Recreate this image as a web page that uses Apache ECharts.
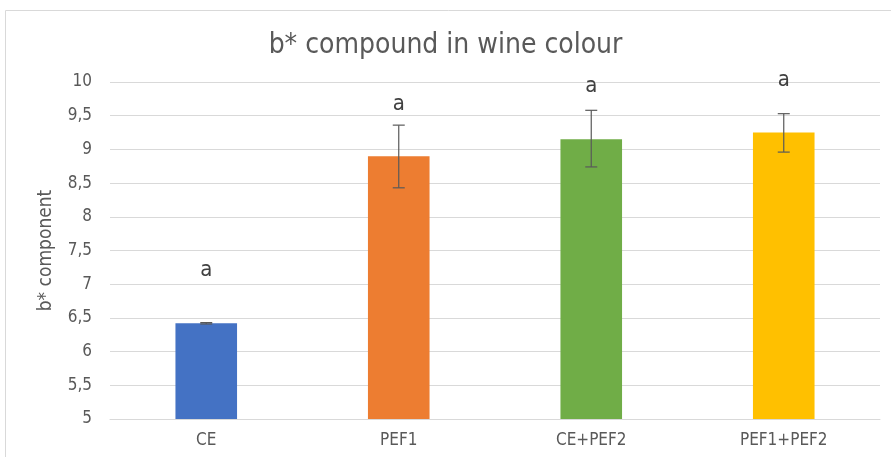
<!DOCTYPE html>
<html>
<head>
<meta charset="utf-8">
<script src="https://cdn.jsdelivr.net/npm/echarts@6/dist/echarts.min.js"></script>
<style>
  html, body { margin: 0; padding: 0; background: #fff; }
  #chart { width: 891px; height: 457px; }
</style>
</head>
<body>
<div id="chart"></div>
<script>
// data
var categories = ['CE', 'PEF1', 'CE+PEF2', 'PEF1+PEF2'];
var means = [6.42, 8.90, 9.15, 9.25];
var errLow = [6.41, 8.43, 8.74, 8.96];
var errHigh = [6.43, 9.36, 9.58, 9.53];
var letters = ['a', 'a', 'a', 'a'];
var letterY = [7.2, 9.67, 9.93, 10.03];
var barColors = ['#4472C4', '#ED7D31', '#70AD47', '#FFC000'];
var yTicks = ['5', '5,5', '6', '6,5', '7', '7,5', '8', '8,5', '9', '9,5', '10'];

var font = "'Liberation Sans Narrow', 'DejaVu Sans Condensed', sans-serif";
var myChart = echarts.init(document.getElementById('chart'));

var errData = categories.map(function (c, i) { return [i, errLow[i], errHigh[i]]; });
var letterData = categories.map(function (c, i) { return [i, letterY[i], letters[i]]; });

myChart.setOption({
    animation: false,
    textStyle: { fontFamily: font },
    graphic: [{
        type: 'rect',
        shape: { x: 5.5, y: 10.5, width: 900, height: 460 },
        style: { fill: 'none', stroke: '#d9d9d9', lineWidth: 1 },
        z: -10
    }],
    title: {
        text: 'b* compound in wine colour',
        left: 'center',
        top: 27,
        textStyle: { color: '#595959', fontSize: 28, fontWeight: 'normal', fontFamily: font }
    },
    grid: { left: 110, right: 11, top: 82, bottom: 38 },
    xAxis: {
        type: 'category',
        data: categories,
        axisLine: { lineStyle: { color: '#d9d9d9' } },
        axisTick: { show: false },
        axisLabel: { color: '#595959', fontSize: 17, margin: 13, fontFamily: font }
    },
    yAxis: {
        type: 'value',
        min: 5,
        max: 10,
        interval: 0.5,
        name: 'b* component',
        nameLocation: 'middle',
        nameGap: 54,
        nameRotate: 90,
        nameTextStyle: { color: '#595959', fontSize: 19, fontFamily: font },
        axisLine: { show: false },
        axisTick: { show: false },
        splitLine: { lineStyle: { color: '#d9d9d9' } },
        axisLabel: {
            color: '#595959', fontSize: 17, margin: 18, fontFamily: font,
            formatter: function (v) { return yTicks[Math.round((v - 5) * 2)]; }
        }
    },
    series: [
        {
            type: 'bar',
            barWidth: '32%',
            data: means.map(function (v, i) {
                return { value: v, itemStyle: { color: barColors[i] } };
            })
        },
        {
            type: 'custom',
            data: errData,
            z: 5,
            renderItem: function (params, api) {
                var x = api.value(0);
                var lo = api.coord([x, api.value(1)]);
                var hi = api.coord([x, api.value(2)]);
                var cap = 6;
                var st = { stroke: '#595959', lineWidth: 1.2 };
                return {
                    type: 'group',
                    children: [
                        { type: 'line', shape: { x1: lo[0], y1: lo[1], x2: hi[0], y2: hi[1] }, style: st },
                        { type: 'line', shape: { x1: lo[0] - cap, y1: lo[1], x2: lo[0] + cap, y2: lo[1] }, style: st },
                        { type: 'line', shape: { x1: hi[0] - cap, y1: hi[1], x2: hi[0] + cap, y2: hi[1] }, style: st }
                    ]
                };
            }
        },
        {
            type: 'custom',
            data: letterData,
            z: 6,
            renderItem: function (params, api) {
                var p = api.coord([api.value(0), api.value(1)]);
                return {
                    type: 'text',
                    style: {
                        x: p[0], y: p[1],
                        text: letters[params.dataIndex],
                        fill: '#404040',
                        fontSize: 22,
                        fontFamily: font,
                        align: 'center',
                        verticalAlign: 'middle'
                    }
                };
            }
        }
    ]
});
</script>
</body>
</html>
